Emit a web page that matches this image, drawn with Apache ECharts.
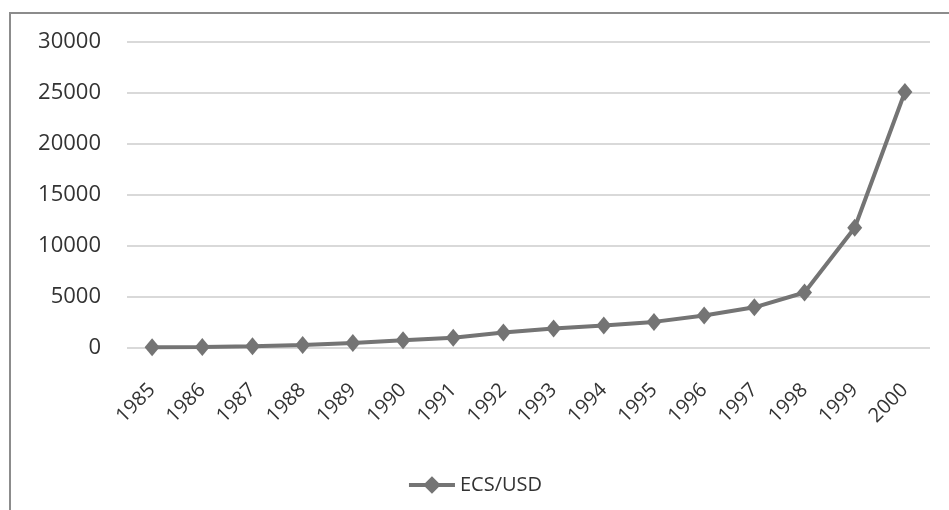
<!DOCTYPE html>
<html>
<head>
<meta charset="utf-8">
<script src="https://cdn.jsdelivr.net/npm/echarts@6/dist/echarts.min.js"></script>
<style>
  html, body { margin: 0; padding: 0; background: #fff; }
  #main { width: 949px; height: 510px; }
</style>
</head>
<body>
<div id="main"></div>
<script>
// 年份和汇率数据
var years = ['1985','1986','1987','1988','1989','1990','1991','1992',
             '1993','1994','1995','1996','1997','1998','1999','2000'];
var ecsUsd = [70, 110, 170, 300, 480, 770, 1000, 1530, 1920, 2200, 2560, 3190, 3990, 5440, 11790, 25100];
var yTicks = [0, 5000, 10000, 15000, 20000, 25000, 30000];

var myChart = echarts.init(document.getElementById('main'));

var textColor = '#333333';
var font = 'Open Sans';
var lineColor = '#747474';

var option = {
    animation: false,
    backgroundColor: '#fff',
    graphic: [{
        type: 'rect',
        shape: { x: 10, y: 13, width: 1100, height: 700 },
        style: { fill: 'none', stroke: '#8c8c8c', lineWidth: 2 },
        silent: true
    }],
    grid: { left: 127, right: 19, top: 42, bottom: 162 },
    legend: {
        bottom: 10,
        left: 'center',
        itemWidth: 46,
        itemHeight: 22,
        itemGap: 4,
        lineStyle: { width: 4 },
        textStyle: { color: textColor, fontFamily: font, fontSize: 20 },
        data: ['ECS/USD']
    },
    xAxis: {
        type: 'category',
        data: years,
        boundaryGap: true,
        axisLine: { show: false },
        axisTick: { show: false },
        axisLabel: {
            rotate: 45,
            margin: 39,
            color: textColor,
            fontFamily: font,
            fontSize: 20,
            interval: 0
        }
    },
    yAxis: {
        type: 'value',
        min: yTicks[0],
        max: yTicks[yTicks.length - 1],
        interval: 5000,
        axisLine: { show: false },
        axisTick: { show: false },
        axisLabel: {
            margin: 26,
            color: textColor,
            fontFamily: font,
            fontSize: 22,
            formatter: function (v) { return String(v); }
        },
        splitLine: { lineStyle: { color: '#d9d9d9', width: 2 } }
    },
    series: [{
        name: 'ECS/USD',
        type: 'line',
        data: ecsUsd,
        symbol: 'diamond',
        symbolSize: [15, 18],
        lineStyle: { color: lineColor, width: 4 },
        itemStyle: { color: lineColor }
    }]
};

myChart.setOption(option);
</script>
</body>
</html>
